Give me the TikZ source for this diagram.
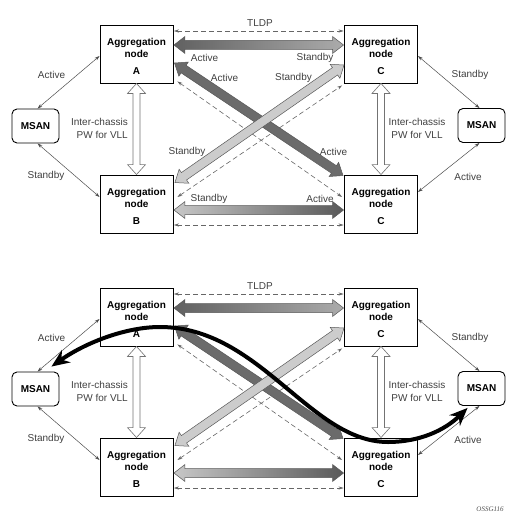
\documentclass[tikz,border=0pt]{standalone}
\usepackage{fontspec}
\setmainfont{Liberation Sans}
\newfontfamily\tagfont{Liberation Serif}
\usetikzlibrary{arrows.meta,calc}

\tikzset{
  agg/.style={draw=black, line width=0.9pt, minimum width=73pt, minimum height=58pt, inner sep=0pt},
  aggtxt/.style={align=center, font=\fontsize{10}{12}\selectfont\bfseries, inner sep=0pt},
  msan/.style={draw=black, line width=0.9pt, rounded corners=5pt, minimum width=47pt, minimum height=34pt, inner sep=0pt, font=\fontsize{10}{12}\selectfont\bfseries},
  lbl/.style={font=\fontsize{10}{13}\selectfont, text=black!75, inner sep=0pt},
  thinlink/.style={draw=black!70, line width=0.5pt, {Stealth[length=5pt,width=3.2pt]}-{Stealth[length=5pt,width=3.2pt]}},
  dashlink/.style={draw=black!60, line width=0.6pt, dash pattern=on 5pt off 3pt, {Stealth[length=5pt,width=3.2pt]}-{Stealth[length=5pt,width=3.2pt]}},
  fatline/.style={draw=black!65, line width=0.5pt},
  hollow/.style={draw=black!55, line width=0.6pt, fill=white},
  darkfat/.style={fatline, fill=black!58},
  lightfat/.style={fatline, fill=black!20},
  curve/.style={line width=4pt, draw=black, {Stealth[length=18pt,width=15pt]}-{Stealth[length=18pt,width=15pt]}},
  tag/.style={font=\tagfont\itshape\fontsize{7}{8}\selectfont, text=black!70, inner sep=0pt},
}

\def\hl{11pt}\def\sw{4.5pt}\def\hw{8.5pt}
\newcommand\fatdbl[3][]{%
  \path[#1] (#2) -- ($(#2)!\hl!(#3)!\hw!90:(#3)$) -- ($(#2)!\hl!(#3)!\sw!90:(#3)$)
   -- ($(#3)!\hl!(#2)!\sw!-90:(#2)$) -- ($(#3)!\hl!(#2)!\hw!-90:(#2)$) -- (#3)
   -- ($(#3)!\hl!(#2)!\hw!90:(#2)$) -- ($(#3)!\hl!(#2)!\sw!90:(#2)$)
   -- ($(#2)!\hl!(#3)!\sw!-90:(#3)$) -- ($(#2)!\hl!(#3)!\hw!-90:(#3)$) -- cycle;}

\newcommand\halfdiag[2]{%
  \node[agg] (#1A) at (136.5,{54+#2}) {};
  \node[agg] (#1B) at (136.5,{204+#2}) {};
  \node[agg] (#1Ct) at (381,{54+#2}) {};
  \node[agg] (#1Cb) at (381,{204+#2}) {};
  \node[aggtxt] (#1At) at (136.5,{56.5+#2}) {Aggregation\\node\\[5pt]A};
  \node[aggtxt] (#1Bt) at (136.5,{206.5+#2}) {Aggregation\\node\\[5pt]B};
  \node[aggtxt] (#1Ctt) at (381,{56.5+#2}) {Aggregation\\node\\[5pt]C};
  \node[aggtxt] (#1Cbt) at (381,{206.5+#2}) {Aggregation\\node\\[5pt]C};
  \node[msan] (#1ML) at (35.5,{126+#2}) {MSAN};
  \node[msan] (#1MR) at (481.5,{125.5+#2}) {MSAN};
  \node[lbl, align=right, anchor=east] (#1icL) at (128,{128.5+#2}) {Inter-chassis\\PW for VLL};
  \node[lbl, align=center] (#1icR) at (417,{128.5+#2}) {Inter-chassis\\PW for VLL};
  \node[lbl] (#1tldp) at (260,{23+#2}) {TLDP};
  \node[lbl] (#1la) at (51.5,{75+#2}) {Active};
  \node[lbl] (#1lb) at (46,{176+#2}) {Standby};
  \node[lbl] (#1lc) at (470,{75+#2}) {Standby};
  \node[lbl] (#1ld) at (468,{177+#2}) {Active};
  % thin MSAN links
  \draw[thinlink] ($(#1ML.north)+(2,0)$) -- ($(#1A.west)+(0,2)$);
  \draw[thinlink] ($(#1ML.south)+(2,0)$) -- ($(#1B.west)+(0,-7)$);
  \draw[thinlink] ($(#1Ct.east)+(0,2)$) -- ($(#1MR.north)+(-2,0)$);
  \draw[thinlink] ($(#1Cb.east)+(0,-12)$) -- ($(#1MR.south)+(-2,0)$);
  % dashed links
  \coordinate (#1tl1) at ($(#1A.east)+(0.5,-23)$);
  \coordinate (#1tl2) at ($(#1Ct.west)+(-0.5,-23)$);
  \coordinate (#1bd1) at ($(#1B.east)+(0.5,21)$);
  \coordinate (#1bd2) at ($(#1Cb.west)+(-0.5,21)$);
  \coordinate (#1d1a) at ($(#1A.south east)+(4,-2)$);
  \coordinate (#1d1b) at ($(#1Cb.west)+(-2,-7)$);
  \coordinate (#1d2a) at ($(#1B.east)+(4,-7)$);
  \coordinate (#1d2b) at ($(#1Ct.south west)+(-2,2)$);
  \draw[dashlink] (#1tl1) -- (#1tl2);
  \draw[dashlink] (#1bd1) -- (#1bd2);
  \draw[dashlink] (#1d1a) -- (#1d1b);
  \draw[dashlink] (#1d2a) -- (#1d2b);
  % fat arrows
  \coordinate (#1h1a) at ($(#1A.east)+(0.5,-9)$);
  \coordinate (#1h1b) at ($(#1Ct.west)+(-0.5,-9)$);
  \coordinate (#1h2a) at ($(#1B.east)+(0.5,6)$);
  \coordinate (#1h2b) at ($(#1Cb.west)+(-0.5,6)$);
  \coordinate (#1k1a) at ($(#1A.east)+(1,9)$);
  \coordinate (#1k1b) at ($(#1Cb.north west)+(-1,1)$);
  \coordinate (#1k2a) at ($(#1B.north east)+(1.5,8)$);
  \coordinate (#1k2b) at ($(#1Ct.west)+(0,11)$);
  \fatdbl[darkfat]{#1k1a}{#1k1b}
  \fatdbl[lightfat]{#1k2a}{#1k2b}
  \fatdbl[fatline, left color=black!62, right color=black!33]{#1h1a}{#1h1b}
  \fatdbl[fatline, left color=black!22, right color=black!65]{#1h2a}{#1h2b}
  % hollow vertical arrows
  \coordinate (#1va) at (#1A.south);
  \coordinate (#1vb) at (#1B.north);
  \coordinate (#1wa) at (#1Ct.south);
  \coordinate (#1wb) at (#1Cb.north);
  {\def\hl{10pt}\def\sw{3.5pt}\def\hw{9pt}%
   \fatdbl[hollow]{#1va}{#1vb}
   \fatdbl[hollow]{#1wa}{#1wb}}
}

\begin{document}
\begin{tikzpicture}[x=1pt,y=-1pt]
\useasboundingbox (0,0) rectangle (525,527);
\halfdiag{t}{0}
\halfdiag{b}{263}
% top-half labels on fat arrows
\node[lbl] (ta1) at (204.5,58) {Active};
\node[lbl] (ts1) at (315,57.5) {Standby};
\node[lbl] (ta2) at (224.5,78) {Active};
\node[lbl] (ts2) at (293.5,77.5) {Standby};
\node[lbl] (ts3) at (187,152) {Standby};
\node[lbl] (ta3) at (333.5,152) {Active};
\node[lbl] (ts4) at (209,198.5) {Standby};
\node[lbl] (ta4) at (320,198.5) {Active};
% bottom-half black curve
\coordinate (cL) at ($(bML.north east)+(-8,-5)$);
\coordinate (cR) at ($(bMR.south west)+(10,2)$);
\draw[curve] (cL) .. controls (85,343) and (125,327) .. (160,327)
  .. controls (260,327) and (310,442) .. (388,442)
  .. controls (420,442) and (445,430) .. (cR);
\node[tag] (tagno) at (490,509) {OSSG116};
\end{tikzpicture}
\end{document}
